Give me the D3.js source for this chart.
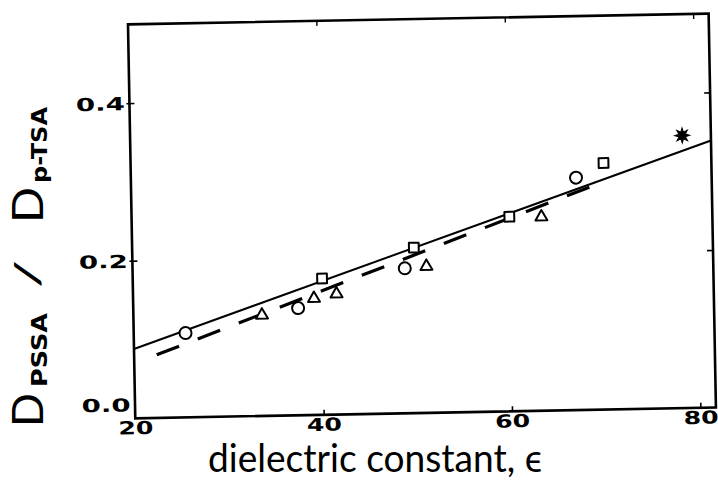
<!DOCTYPE html>
<html>
<head>
<meta charset="utf-8">
<script src="https://cdn.jsdelivr.net/npm/d3@7"></script>
<style>
  html, body { margin: 0; padding: 0; background: #fff; }
  svg { display: block; }
</style>
</head>
<body>
<script>
// ---- data ----
const xTicks = [20, 40, 60, 80];
const xTickLabels = ["20", "40", "60", "80"];
const yTicks = [0.0, 0.2, 0.4];
const yTickLabels = ["0.0", "0.2", "0.4"];

const circleX = [25.5, 37.5, 48.9, 67.25];
const circleY = [0.107, 0.136, 0.184, 0.295];
const squareX = [40.1, 49.9, 60.1, 70.2];
const squareY = [0.173, 0.210, 0.247, 0.313];
const triangleX = [33.65, 39.2, 41.6, 51.2, 63.5];
const triangleY = [0.128, 0.148, 0.153, 0.186, 0.246];
const starX = [78.6];
const starY = [0.346];

const solidX = [20, 81.65];
const solidY = [0.088, 0.339];
const dashedX = [22.4, 70.1];
const dashedY = [0.080, 0.289];

const xMin = 20, xMax = 81.65, yMin = 0, yMax = 0.5;

// ---- drawing ----
const W = 718, H = 483;
const svg = d3.select("body").append("svg").attr("width", W).attr("height", H);

const x = d3.scaleLinear().domain([20, 80]).range([131.6, 696.8]);
const y = d3.scaleLinear().domain([0, 0.5]).range([413, 19]);

// slight scan tilt of the plotted frame
const g = svg.append("g").attr("transform", "rotate(-1.06,420,217)");

// frame
g.append("rect")
  .attr("x", x(xMin)).attr("y", y(yMax))
  .attr("width", x(xMax) - x(xMin)).attr("height", y(yMin) - y(yMax))
  .attr("fill", "none").attr("stroke", "#000").attr("stroke-width", 2.6);

// axes (ticks + labels)
const xAxis = g.append("g").attr("transform", `translate(0,${y(0)})`)
  .call(d3.axisBottom(x).tickValues(xTicks).tickFormat((d, i) => xTickLabels[i])
    .tickSizeInner(-5).tickSizeOuter(0));
xAxis.select(".domain").remove();
xAxis.selectAll(".tick line").attr("stroke", "#000").attr("stroke-width", 1.6)
  .filter(d => d === 20).remove();
xAxis.selectAll(".tick text")
  .attr("y", 16).attr("dy", 0)
  .attr("font-family", "DejaVu Sans").attr("font-weight", "bold").attr("font-size", 18)
  .attr("textLength", 35).attr("lengthAdjust", "spacingAndGlyphs")
  .attr("fill", "#000");

const xTop = g.append("g").attr("transform", `translate(0,${y(yMax)})`)
  .call(d3.axisTop(x).tickValues(xTicks.slice(1)).tickFormat("").tickSizeInner(-5).tickSizeOuter(0));
xTop.select(".domain").remove();
xTop.selectAll(".tick line").attr("stroke", "#000").attr("stroke-width", 1.4);

const yAxis = g.append("g").attr("transform", `translate(${x(xMin)},0)`)
  .call(d3.axisLeft(y).tickValues(yTicks).tickFormat((d, i) => yTickLabels[i])
    .tickSizeInner(-5).tickSizeOuter(0));
yAxis.select(".domain").remove();
yAxis.selectAll(".tick line").attr("stroke", "#000").attr("stroke-width", 1.6)
  .attr("x1", -3).filter(d => d === 0).remove();
yAxis.selectAll(".tick text")
  .attr("x", -4.5)
  .attr("dy", d => d === 0 ? "-0.42em" : "0.36em")
  .attr("font-family", "DejaVu Sans").attr("font-weight", "bold").attr("font-size", 18)
  .attr("textLength", 49).attr("lengthAdjust", "spacingAndGlyphs")
  .attr("fill", "#000");

const yRight = g.append("g").attr("transform", `translate(${x(xMax)},0)`)
  .call(d3.axisRight(y).tickValues(yTicks.slice(1)).tickFormat("").tickSizeInner(-6).tickSizeOuter(0));
yRight.select(".domain").remove();
yRight.selectAll(".tick line").attr("stroke", "#000").attr("stroke-width", 1.6);

// fit lines
const line = d3.line().x(d => x(d[0])).y(d => y(d[1]));
g.append("path")
  .attr("d", line(solidX.map((v, i) => [v, solidY[i]])))
  .attr("fill", "none").attr("stroke", "#000").attr("stroke-width", 2);
g.append("path")
  .attr("d", line(dashedX.map((v, i) => [v, dashedY[i]])))
  .attr("fill", "none").attr("stroke", "#000").attr("stroke-width", 3.2)
  .attr("stroke-dasharray", "24,20");

// markers
const mk = { fill: "#fff", stroke: "#000", sw: 2 };
g.selectAll("circle.pt").data(circleX.map((v, i) => [v, circleY[i]])).join("circle")
  .attr("class", "pt").attr("cx", d => x(d[0])).attr("cy", d => y(d[1])).attr("r", 6)
  .attr("fill", mk.fill).attr("stroke", mk.stroke).attr("stroke-width", mk.sw);

g.selectAll("path.sq").data(squareX.map((v, i) => [v, squareY[i]])).join("path")
  .attr("class", "sq")
  .attr("transform", d => `translate(${x(d[0])},${y(d[1])})`)
  .attr("d", d3.symbol(d3.symbolSquare, 95)())
  .attr("fill", mk.fill).attr("stroke", mk.stroke).attr("stroke-width", mk.sw)
  .attr("stroke-linejoin", "round");

g.selectAll("path.tri").data(triangleX.map((v, i) => [v, triangleY[i]])).join("path")
  .attr("class", "tri")
  .attr("transform", d => `translate(${x(d[0])},${y(d[1])})`)
  .attr("d", d3.symbol(d3.symbolTriangle, 62)())
  .attr("fill", mk.fill).attr("stroke", mk.stroke).attr("stroke-width", mk.sw)
  .attr("stroke-linejoin", "round");

const starPts = d3.range(16).map(i => [i * Math.PI / 8, i % 2 === 0 ? 7.5 : 3.5]);
const starPath = d3.lineRadial().curve(d3.curveLinearClosed)(starPts);
g.selectAll("path.star").data(starX.map((v, i) => [v, starY[i]])).join("path")
  .attr("class", "star")
  .attr("transform", d => `translate(${x(d[0])},${y(d[1])})`)
  .attr("d", starPath)
  .attr("fill", "#000").attr("stroke", "#000").attr("stroke-width", 1);

// axis titles (not tilted)
svg.append("text")
  .attr("x", 375).attr("y", 472)
  .attr("text-anchor", "middle")
  .attr("font-family", "Lato, 'DejaVu Sans', sans-serif").attr("font-weight", 400)
  .attr("font-size", 38)
  .attr("textLength", 334).attr("lengthAdjust", "spacingAndGlyphs")
  .attr("fill", "#000")
  .text("dielectric constant, \u03F5");

const yt = svg.append("g").attr("transform", "translate(43,0) rotate(-90)");
const ytPieces = [
  { t: "D", start: 427, len: 34, size: 42, base: 0, font: "Lato, 'DejaVu Sans', sans-serif", w: 400 },
  { t: "PSSA", start: 387, len: 74, size: 21, base: 4, font: "DejaVu Sans", w: 700 },
  { t: "/", start: 288, len: 28, size: 34, base: -3, font: "Lato, 'DejaVu Sans', sans-serif", w: 400 },
  { t: "D", start: 223, len: 36, size: 42, base: 0, font: "Lato, 'DejaVu Sans', sans-serif", w: 400 },
  { t: "p-TSA", start: 183, len: 76, size: 21, base: 4, font: "DejaVu Sans", w: 700 }
];
yt.selectAll("text").data(ytPieces).join("text")
  .attr("x", d => -d.start).attr("y", d => d.base)
  .attr("font-family", d => d.font).attr("font-weight", d => d.w)
  .attr("font-size", d => d.size)
  .attr("textLength", d => d.len).attr("lengthAdjust", "spacingAndGlyphs")
  .attr("fill", "#000")
  .text(d => d.t);
</script>
</body>
</html>
